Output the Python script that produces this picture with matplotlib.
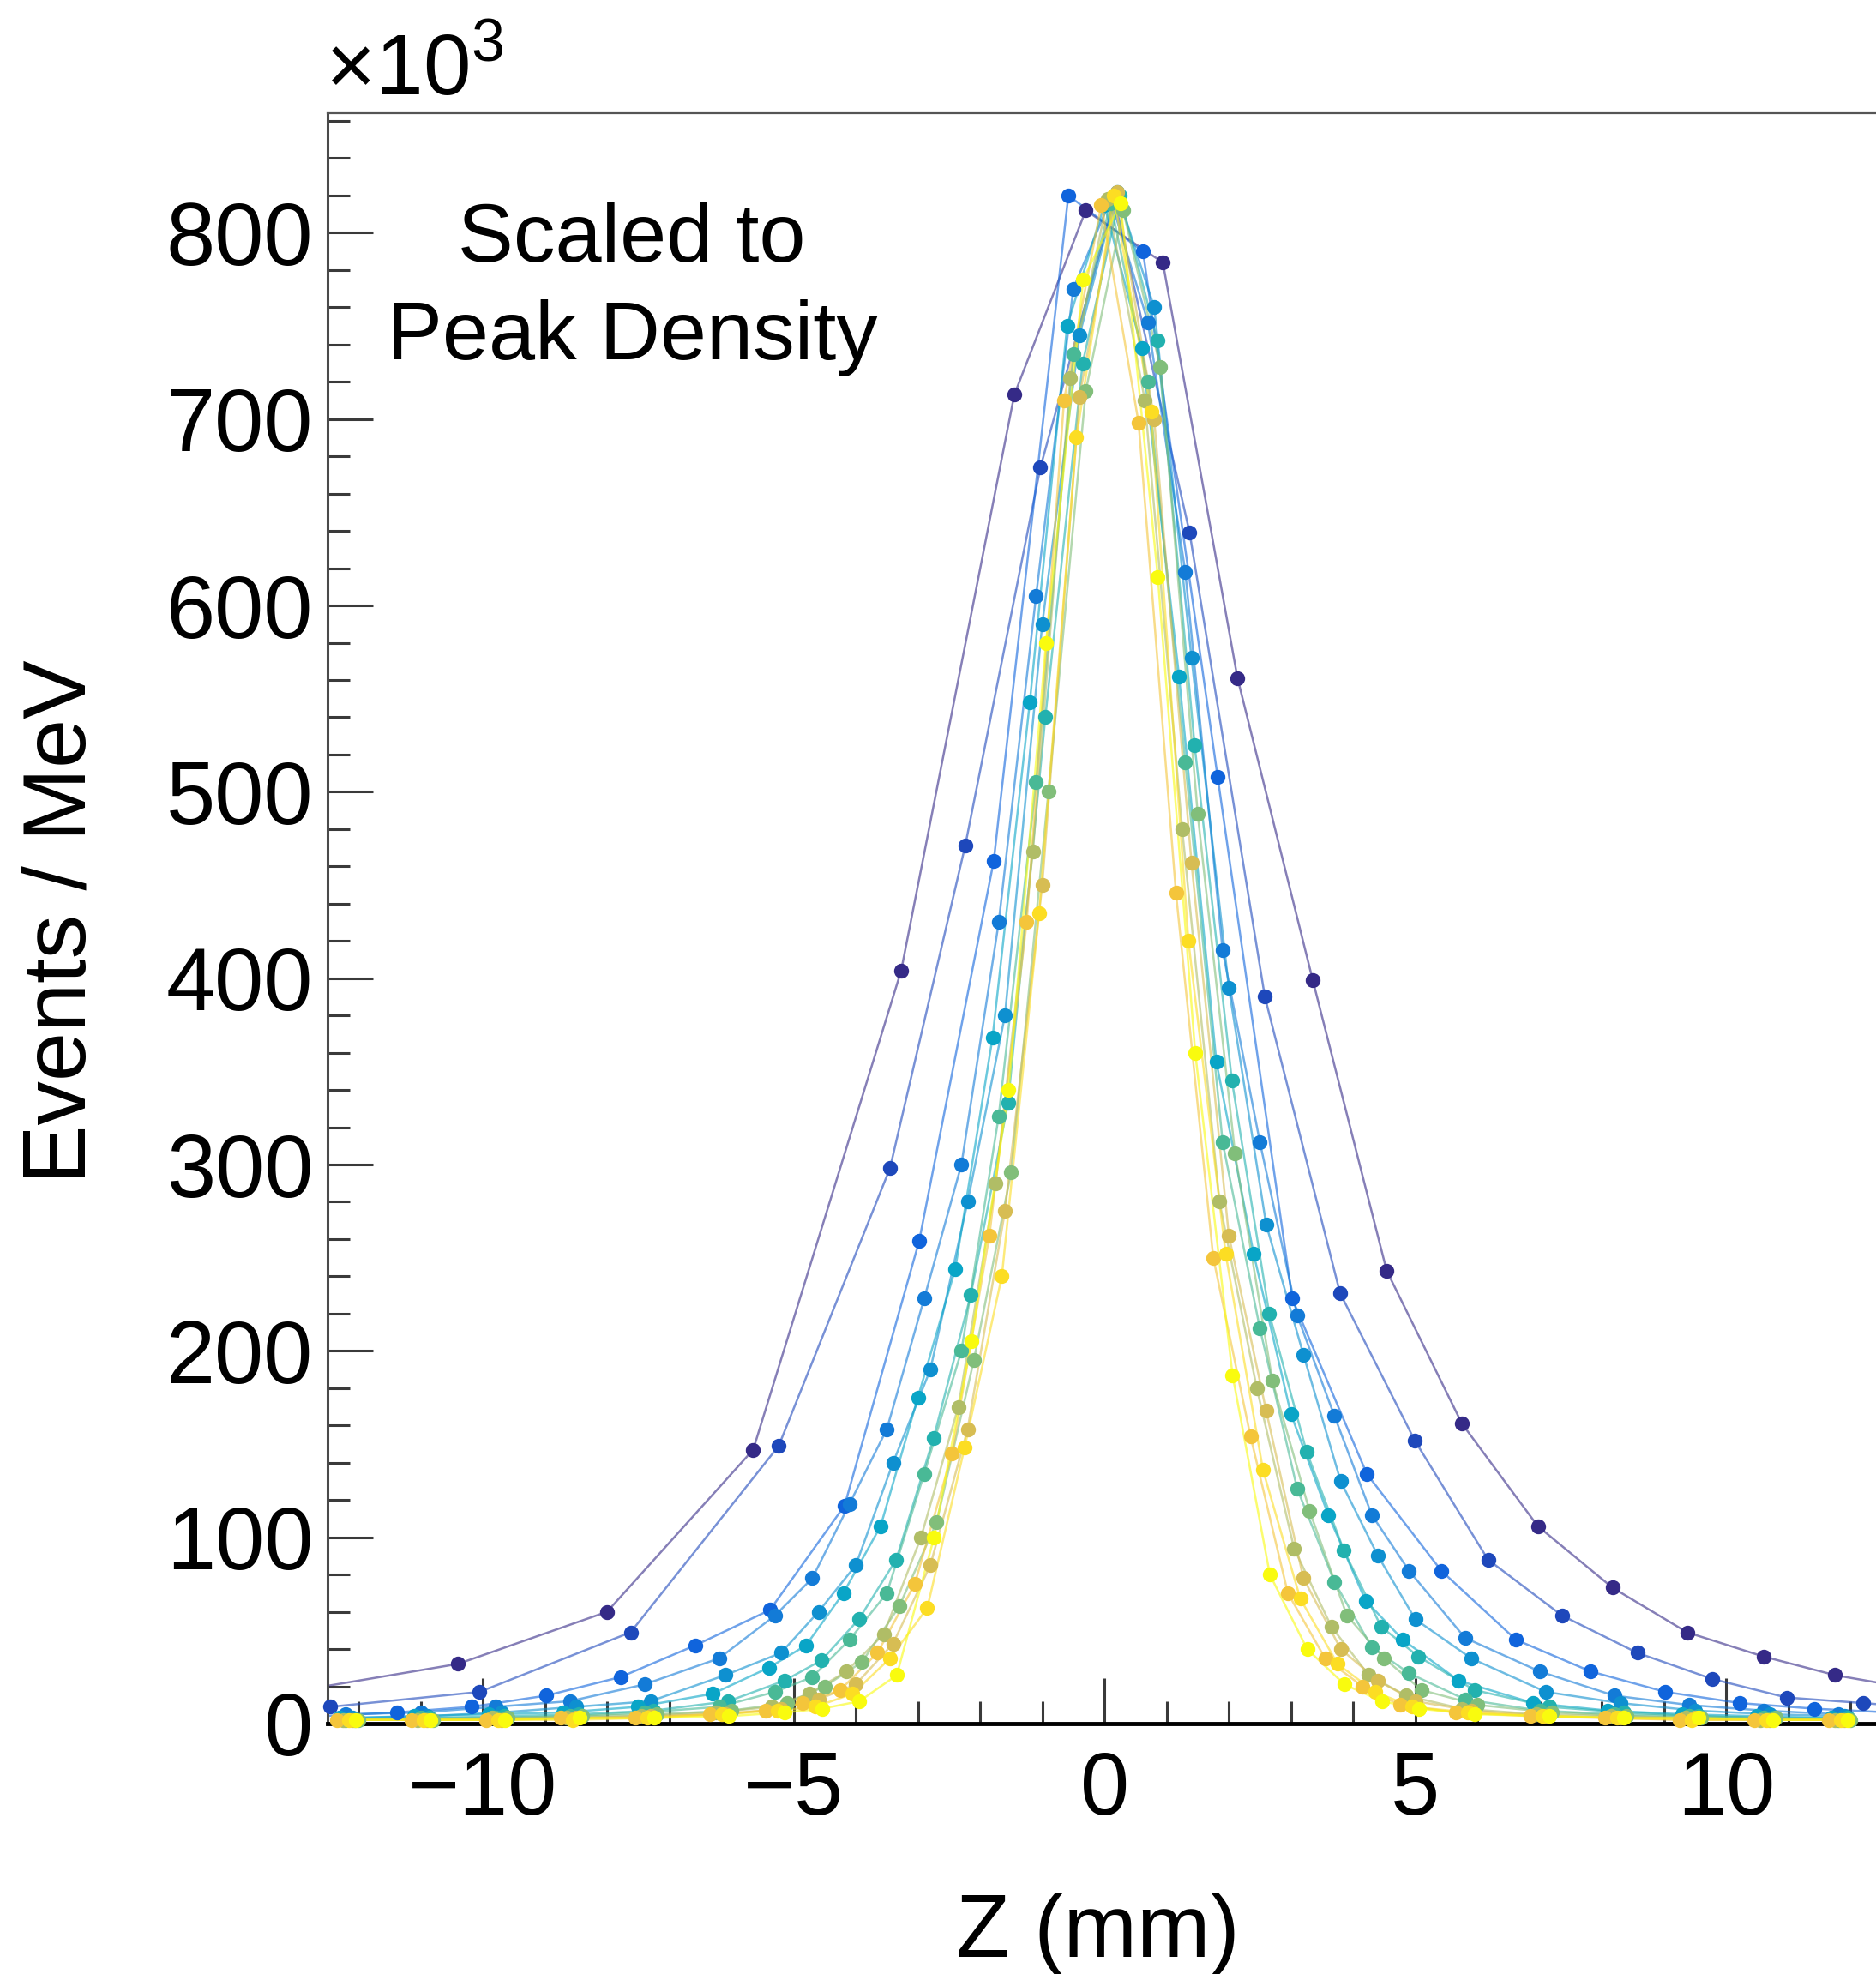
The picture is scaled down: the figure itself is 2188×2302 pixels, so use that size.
import numpy as np
import matplotlib.pyplot as plt
from matplotlib.colors import LinearSegmentedColormap
from matplotlib.ticker import MultipleLocator, FuncFormatter

plt.rcParams['font.family'] = ['Liberation Sans', 'DejaVu Sans']
plt.rcParams['mathtext.fontset'] = 'custom'
plt.rcParams['mathtext.rm'] = 'Liberation Sans'

# ROOT kBird palette
bird_stops = [0.0, 0.125, 0.25, 0.375, 0.5, 0.625, 0.75, 0.875, 1.0]
bird_r = [0.2082, 0.0592, 0.0780, 0.0232, 0.1802, 0.5301, 0.8186, 0.9956, 0.9764]
bird_g = [0.1664, 0.3599, 0.5041, 0.6419, 0.7178, 0.7492, 0.7328, 0.7862, 0.9832]
bird_b = [0.5293, 0.8684, 0.8385, 0.7914, 0.6425, 0.4662, 0.3499, 0.1968, 0.0539]
bird = LinearSegmentedColormap.from_list(
    'bird', list(zip(bird_stops, zip(bird_r, bird_g, bird_b))))

# ---- data (Events / MeV in units of 1e3) ----
# widest scans, read point by point
z0 = [-12.9, -10.4, -8.0, -5.65, -3.27, -1.45, -0.3, 0.94, 2.14, 3.35, 4.54,
      5.75, 6.97, 8.17, 9.37, 10.6, 11.75, 12.95]
n0 = [18, 32, 60, 147, 404, 713, 812, 784, 561, 399, 243, 161, 106, 73, 49,
      36, 26, 19]

z1 = [-12.45, -10.05, -7.62, -5.24, -3.45, -2.24, -1.03, 0.16, 1.37, 2.58,
      3.79, 4.99, 6.17, 7.36, 8.57, 9.77, 10.97, 12.2, 13.4]
n1 = [9, 17, 49, 149, 298, 471, 674, 818, 639, 390, 231, 152, 88, 58, 38, 24,
      14, 11, 8]

z2 = [-12.58, -11.38, -10.18, -8.98, -7.78, -6.58, -5.38, -4.18, -2.98, -1.78,
      -0.58, 0.62, 1.82, 3.02, 4.22, 5.42, 6.62, 7.82, 9.02, 10.22, 11.42, 12.62]
n2 = [4, 6, 9, 15, 25, 42, 61, 117, 259, 463, 820, 790, 508, 228, 134, 82, 45,
      28, 17, 11, 8, 6]

# narrower scans share one bin layout, shifted per scan
z_bins = [-12.0, -10.8, -9.6, -8.4, -7.2, -6.0, -5.1, -4.5, -3.9, -3.3, -2.7,
          -2.1, -1.5, -0.9, -0.3, 0.3, 0.9, 1.5, 2.1, 2.7, 3.3, 3.9, 4.5, 5.1,
          6.0, 7.2, 8.4, 9.6, 10.8, 12.0]
shifts = [-0.2, -0.1, -0.3, -0.05, -0.2, 0.0, -0.25, -0.1, -0.35, -0.15, -0.04]
n3 = [5, 6, 9, 12, 21, 35, 58, 78, 118, 158, 228, 300, 430, 605, 770, 818, 752,
      618, 415, 312, 219, 165, 112, 82, 46, 28, 15, 10, 7, 5]
n4 = [3, 4, 6, 9, 12, 26, 38, 60, 85, 140, 190, 280, 380, 590, 745, 822, 760,
      572, 395, 268, 198, 130, 90, 56, 35, 17, 11, 7, 5, 4]
n5 = [3, 4, 5, 6, 9, 16, 30, 42, 70, 106, 175, 244, 368, 548, 750, 815, 738,
      562, 355, 252, 166, 112, 66, 45, 23, 11, 7, 5, 4, 3]
n6 = [2, 3, 4, 5, 7, 12, 23, 34, 56, 88, 153, 230, 333, 540, 730, 820, 742,
      525, 345, 220, 146, 93, 52, 36, 18, 9, 6, 4, 3, 3]
n7 = [2, 3, 3, 4, 6, 9, 17, 25, 45, 70, 134, 200, 326, 505, 735, 816, 720, 516,
      312, 212, 126, 76, 41, 27, 13, 7, 5, 4, 3, 2]
n8 = [2, 2, 3, 4, 5, 7, 11, 20, 33, 63, 108, 195, 296, 500, 715, 812, 728, 488,
      306, 184, 114, 58, 35, 18, 10, 6, 4, 3, 3, 2]
n9 = [2, 2, 3, 3, 4, 6, 9, 16, 28, 48, 100, 170, 290, 468, 722, 818, 710, 480,
      280, 180, 94, 52, 26, 15, 8, 5, 4, 3, 2, 2]
n10 = [2, 2, 2, 3, 4, 5, 8, 13, 21, 43, 85, 158, 275, 450, 712, 822, 700, 462,
       262, 168, 78, 40, 23, 12, 7, 4, 3, 3, 2, 2]
n11 = [2, 2, 2, 3, 3, 5, 7, 11, 18, 38, 75, 145, 262, 430, 710, 815, 698, 446,
       250, 154, 70, 35, 20, 10, 6, 4, 3, 2, 2, 2]
n12 = [2, 2, 2, 2, 3, 5, 7, 9, 16, 35, 62, 148, 240, 435, 690, 820, 704, 420,
       252, 136, 67, 32, 17, 9, 6, 4, 3, 2, 2, 2]
n13 = [2, 2, 2, 3, 3, 4, 6, 8, 12, 26, 100, 205, 340, 580, 775, 816, 615, 360,
       187, 80, 40, 21, 12, 8, 5, 4, 3, 3, 2, 2]

series = [(z0, n0), (z1, n1), (z2, n2)]
for s, n in zip(shifts, [n3, n4, n5, n6, n7, n8, n9, n10, n11, n12, n13]):
    series.append(([b + s for b in z_bins], n))

# ---- figure ----
fig = plt.figure(figsize=(21.88, 23.02), dpi=100)
ax = fig.add_axes([0.17447, 0.12685, 0.8285, 0.81568])

ns = len(series)
for i, (x, y) in enumerate(series):
    x = np.asarray(x, float)
    y = np.asarray(y, float)
    c = bird(i / (ns - 1))
    ax.plot(x, y, '-', color=c, lw=1.8, alpha=0.6, zorder=2 + i * 0.01)
    keep = np.abs(x) <= 12.5
    ax.plot(x[keep], y[keep], 'o', color=c, ms=12.5, mew=0,
            zorder=3 + i * 0.01, clip_on=False)

ax.set_xlim(-12.5, 12.5)
ax.set_ylim(0, 864)
ax.set_xticks([-10, -5, 0, 5, 10])
ax.xaxis.set_minor_locator(MultipleLocator(1))
ax.yaxis.set_major_locator(MultipleLocator(100))
ax.yaxis.set_minor_locator(MultipleLocator(20))
ax.yaxis.set_major_formatter(FuncFormatter(lambda v, p: f"{int(round(v))}"))

ax.tick_params(which='both', direction='in', top=False, right=False,
               color='#3a3a3a', width=2.2)
ax.tick_params(which='major', length=38)
ax.tick_params(which='minor', length=19)
ax.tick_params(axis='x', which='major', labelsize=74, pad=22)
ax.tick_params(axis='y', which='major', labelsize=74, pad=12)

ax.spines['left'].set_linewidth(2.2)
ax.spines['left'].set_color('#4a4a4a')
ax.spines['bottom'].set_linewidth(3.5)
ax.spines['bottom'].set_color('black')
ax.spines['top'].set_linewidth(1.6)
ax.spines['top'].set_color('#555555')
ax.spines['right'].set_visible(False)

fig.text(0.1732, 0.9522, r'×10$^{3}$', fontsize=72, ha='left', va='baseline')
fig.text(0.3369, 0.8675, 'Scaled to', fontsize=70, ha='center', va='baseline')
fig.text(0.3369, 0.8182, 'Peak Density', fontsize=70, ha='center',
         va='baseline')
fig.text(0.0334, 0.533, 'Events / MeV', fontsize=74, rotation=90,
         ha='center', va='center')
fig.text(0.5853, 0.0085, 'Z (mm)', fontsize=74, ha='center', va='baseline')

fig.savefig('out.png', dpi=100)
